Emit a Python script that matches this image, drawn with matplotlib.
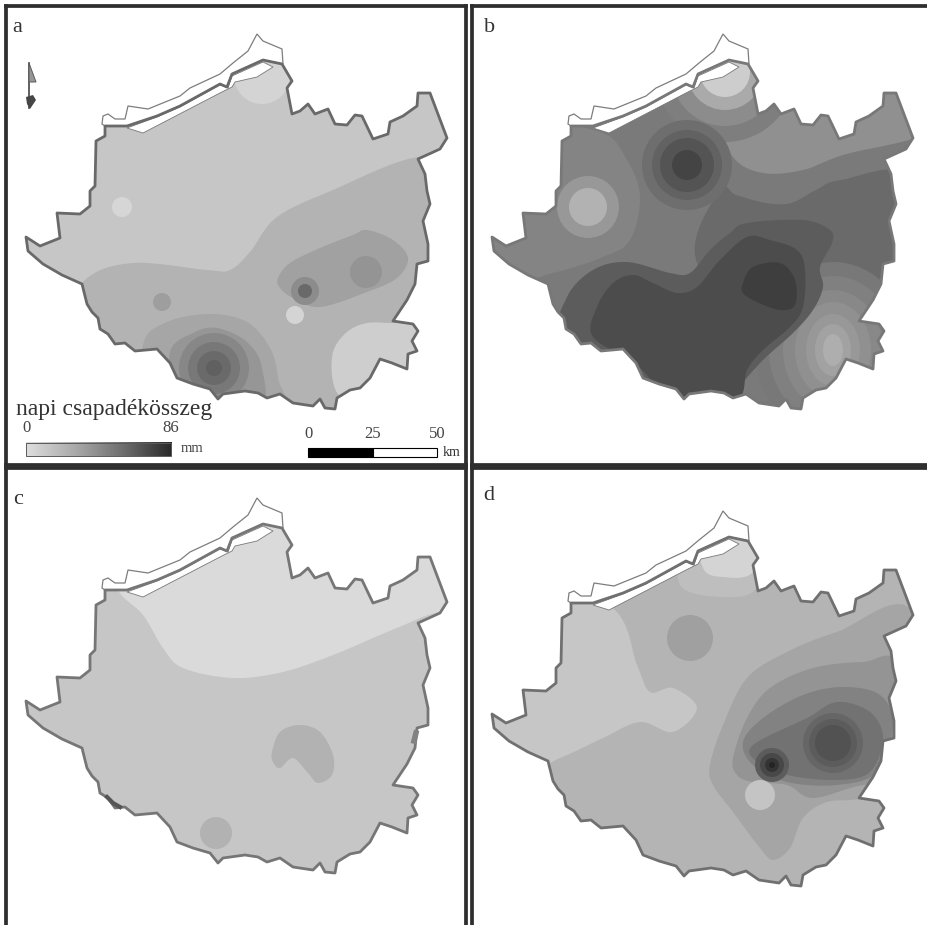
# -*- coding: utf-8 -*-
# Four daily precipitation maps (a-d), all drawn in panel a's pixel-like map coordinates
import numpy as np
import matplotlib
matplotlib.use('Agg')
import matplotlib.pyplot as plt
from matplotlib.patches import Polygon, Circle, Ellipse, Rectangle

# %% Map outlines

outline = [(105,126),(127,126),(157,116),(180,106),(220,84),(227,87),(232,74),(263,60),(282,64),(292,81),
    (287,88),(292,114),(300,111),(308,104),(315,114),(328,109),(335,124),(347,125),(355,115),(362,116),
    (373,139),(388,134),(390,122),(403,116),(417,106),(418,93),(430,93),(447,138),(440,149),(418,159),
    (425,174),(427,191),(430,204),(423,221),(428,244),(428,261),(417,264),(415,284),(407,300),(393,321),
    (413,324),(418,331),(412,341),(417,351),(408,354),(407,369),(392,363),(380,359),(370,378),(360,388),
    (350,390),(337,398),(335,409),(325,408),(320,399),(313,406),(293,403),(280,394),(267,398),(258,393),
    (245,391),(223,394),(218,399),(210,389),(193,384),(177,378),(170,363),(157,349),(135,351),(125,343),
    (115,344),(108,334),(100,329),(98,318),(92,312),(87,304),(82,284),(62,275),(43,264),(28,251),(26,237),
    (40,246),(60,238),(57,213),(80,214),(90,206),(90,191),(95,186),(96,141),(105,136)]

river_north = [(102,124),(103,116),(108,114),(115,119),(125,119),(128,106),(148,109),(180,96),(190,88),
    (220,74),(233,63),(248,51),(257,34),(263,41),(282,49),(283,64),(263,60),(232,74),(227,87),(220,84),
    (180,106),(157,116),(127,126),(105,126)]

river_south = [(127,128),(143,133),(220,93),(232,87),(235,82),(257,77),(273,67),(263,62),(232,76),(228,88),
    (220,85),(180,107),(157,117)]

# %% Panel a contours

a_band = [(418,157),(333,190),(277,217),(250,252),(230,270),(207,270),(133,263),(85,280),(60,330),(130,400),
    (300,430),(470,400),(480,170)]
a_se_light = [(333,352),(347,332),(367,323),(393,323),(430,322),(430,380),(367,398),(343,398),(333,382)]
a_ne_oval = [(278,278),(290,263),(320,248),(353,235),(367,230),(393,240),(408,258),(397,278),(367,292),
    (320,307),(293,298),(280,288)]
a_south_1 = [(143,345),(167,322),(210,314),(247,322),(270,348),(278,378),(278,415),(150,410)]
a_south_2 = [(170,352),(193,333),(217,328),(247,342),(262,368),(258,410),(180,400)]
a_circles = [(262,76,28,212),(122,207,10,214),(295,315,9,212),(162,302,9,158),(366,272,16,148),
    (305,291,14,140),(305,291,7,105),(214,368,35,135),(214,368,26,120),(214,368,17,106),(214,368,8,96)]

# %% Panel b contours

b_north_light = [(250,112),(267,157),(297,173),(337,170),(377,155),(470,128),(470,70),(300,50)]
b_mid = [(254,190),(270,195),(300,203),(325,203),(350,190),(375,180),(445,178),(445,300),(300,340),(230,260)]
b_west = [(134,132),(161,160),(174,197),(164,240),(137,257),(87,273),(40,280),(10,220),(60,130)]
b_dark_1 = [(101,297),(127,270),(161,262),(204,273),(224,273),(244,250),(264,233),(281,223),(337,220),
    (364,230),(366,243),(354,267),(357,287),(347,310),(327,333),(297,360),(274,387),(264,410),(150,410),
    (95,340)]
b_dark_2 = [(131,307),(147,283),(167,275),(187,283),(211,293),(231,287),(254,260),(281,237),(304,240),
    (331,250),(339,270),(337,307),(324,327),(297,350),(281,370),(271,400),(217,410),(171,365),(127,337)]
b_core = [(277,283),(287,267),(314,263),(329,280),(329,305),(314,310),(291,302),(277,293)]
b_circles_west = [(122,207,31,152),(122,207,19,178)]
b_circles_north = [(259,72,70,126),(259,72,54,140),(259,72,38,170),(259,72,25,205)]
b_circles_core = [(221,165,45,110),(221,165,35,98),(221,165,27,84),(221,165,15,68)]
b_east_lobe = [(385,330),(430,318),(430,375),(385,375)]
# SE light area, centre x, centre y, half width, half height, grey
b_rings = [(367,350,78,88,120),(367,350,64,74,128),(367,350,50,60,136),(367,350,38,48,144),(367,350,27,36,152),
    (367,350,18,26,162),(367,350,10,16,174)]

# %% Panel c contours

c_north = [(120,129),(143,151),(163,184),(183,204),(233,214),(283,208),(333,191),(380,171),(420,154),(470,130),
    (460,60),(300,30),(110,100)]
c_crescent = [(272,288),(280,268),(300,261),(320,268),(333,291),(332,311),(318,319),(308,309),(293,294),(280,304),
    (273,298)]
c_circles = [(216,369,16,178)]
c_edge_1 = [(107,333),(113,339),(120,343)]
c_edge_2 = [(416,269),(414,277)]

# %% Panel d contours

d_west = [(147,131),(171,188),(184,215),(207,211),(231,231),(207,255),(174,245),(137,261),(94,281),(40,300),
    (5,220),(60,90)]
d_north_1 = [(214,108),(257,120),(291,111),(310,60),(225,60)]
d_north_2 = [(237,91),(257,100),(287,95),(300,50),(235,50)]
d_se_1 = [(244,288),(257,248),(281,201),(321,175),(371,155),(447,135),(465,300),(397,321),(361,325),(337,341),
    (324,371),(307,383),(294,371),(267,335),(247,308)]
d_se_2 = [(267,281),(281,241),(304,211),(347,191),(397,185),(434,188),(465,300),(397,308),(347,321),(321,308),
    (287,305),(271,298)]
d_se_3 = [(277,265),(297,241),(337,218),(377,210),(414,218),(427,248),(411,295),(371,308),(321,305),(287,288)]
d_se_4 = [(287,268),(341,241),(371,225),(404,235),(417,261),(404,295),(371,303),(321,298),(291,285)]
d_circles_1 = [(224,161,23,160)]
d_circles_2 = [(367,266,30,102),(367,266,24,92),(367,266,18,82),(306,288,17,92),(306,288,12,72),(306,288,7,52),
    (306,288,3,36),(294,318,15,196)]

# %% Legend and labels

legend_title = 'napi csapadékösszeg'
legend_ticks = ['0', '86']
legend_unit = 'mm'
scale_ticks = ['0', '25', '50']
scale_unit = 'km'
arrow_head = [(29,63),(36,82),(29,82)]
arrow_tail = [(26,97),(33,95),(36,100),(30,109),(27,104)]

# %% Helpers

W, H = 927, 925

def grey(v):
    return (v/255, v/255, v/255)

def smooth(pts, n=12):
    # closed Catmull-Rom curve through the traced contour points
    p = np.array(pts, dtype=float)
    out = []
    for i in range(len(p)):
        p0, p1, p2, p3 = p[i-1], p[i], p[(i+1) % len(p)], p[(i+2) % len(p)]
        for t in np.linspace(0, 1, n, endpoint=False):
            out.append(0.5*(2*p1 + (p2-p0)*t + (2*p0-5*p1+4*p2-p3)*t**2 + (3*p1-p0-3*p2+p3)*t**3))
    return np.array(out)

def make_panel(x0, y0, x1, y1, dx, dy, sides):
    ax = fig.add_axes([x0/W, 1-y1/H, (x1-x0)/W, (y1-y0)/H])
    ax.set_xlim(x0-dx, x1-dx)
    ax.set_ylim(y1-dy, y0-dy)
    ax.set_xticks([])
    ax.set_yticks([])
    for name, sp in ax.spines.items():
        sp.set_visible(name in sides)
        sp.set_linewidth(2.7)
        sp.set_color('#2e2e2e')
    return ax

def draw_map(ax, base, layers, edge=110):
    clip = Polygon(outline, closed=True, fc=grey(base), ec='none', zorder=1)
    ax.add_patch(clip)
    z = 2
    for layer in layers:
        kind, data, *rest = layer
        if kind == 'poly':
            items = [Polygon(smooth(data), closed=True, fc=grey(rest[0]), ec='none', zorder=z)]
        elif kind == 'flat':
            items = [Polygon(data, closed=True, fc=grey(rest[0]), ec='none', zorder=z)]
        elif kind == 'circles':
            items = [Circle((x, y), r, fc=grey(v), ec='none', zorder=z) for x, y, r, v in data]
        else:
            items = [Ellipse((x, y), 2*w, 2*h, fc=grey(v), ec='none', zorder=z) for x, y, w, h, v in data]
        for it in items:
            ax.add_patch(it)
            it.set_clip_path(clip)
        z += 1
    ax.add_patch(Polygon(river_south, closed=True, fc='white', ec=grey(120), lw=0.6, zorder=20))
    ax.add_patch(Polygon(river_north, closed=True, fc='white', ec=grey(125), lw=0.9, zorder=21))
    ax.add_patch(Polygon(outline, closed=True, fc='none', ec=grey(edge), lw=2.0, joinstyle='round', zorder=22))

fig = plt.figure(figsize=(W/100, H/100), dpi=100)
fig.patch.set_facecolor('white')
plt.rcParams['font.family'] = ['Liberation Serif', 'DejaVu Serif']

ax_a = make_panel(6, 6, 466, 465, 0, 0, ('left', 'right', 'top', 'bottom'))
ax_b = make_panel(472, 6, 929, 465, 466, 0, ('left', 'top', 'bottom'))
ax_c = make_panel(6, 468, 466, 927, 0, 464, ('left', 'right', 'top'))
ax_d = make_panel(472, 468, 929, 927, 466, 477, ('left', 'top'))

# %% Maps

draw_map(ax_a, 198, [('poly', a_band, 179), ('poly', a_se_light, 206), ('poly', a_ne_oval, 161),
    ('poly', a_south_1, 166), ('poly', a_south_2, 150), ('circles', a_circles)], edge=105)

draw_map(ax_b, 122, [('poly', b_north_light, 144), ('poly', b_mid, 106), ('poly', b_west, 132),
    ('circles', b_circles_west), ('circles', b_circles_north), ('circles', b_circles_core),
    ('flat', b_east_lobe, 140), ('ellipses', b_rings), ('poly', b_dark_1, 92), ('poly', b_dark_2, 76),
    ('poly', b_core, 62)], edge=120)

draw_map(ax_c, 198, [('poly', c_north, 218), ('poly', c_crescent, 178), ('circles', c_circles)], edge=118)
ax_c.plot(*zip(*c_edge_1), color=grey(85), lw=3.0, zorder=23)
ax_c.plot(*zip(*c_edge_2), color=grey(130), lw=4.0, zorder=23)

draw_map(ax_d, 180, [('poly', d_west, 198), ('poly', d_north_1, 190), ('poly', d_north_2, 212),
    ('circles', d_circles_1), ('poly', d_se_1, 165), ('poly', d_se_2, 148), ('poly', d_se_3, 130),
    ('poly', d_se_4, 114), ('circles', d_circles_2)], edge=112)

# %% Panel letters

for ax, letter, x, y in [(ax_a, 'a', 17, 28), (ax_b, 'b', 24, 28), (ax_c, 'c', 18, 36), (ax_d, 'd', 23, 19)]:
    ax.text(x, y, letter, fontsize=16, color='#333333', ha='center', va='center', zorder=30)

# %% Legend, scale bar and north arrow in panel a

ax_a.text(16, 410, legend_title, fontsize=17, color='#333333', ha='left', va='center', zorder=30)
ax_a.text(26, 428, legend_ticks[0], fontsize=12, color='#444444', ha='center', va='center', zorder=30)
ax_a.text(171, 428, legend_ticks[1], fontsize=12, color='#444444', ha='center', va='center', zorder=30)
ax_a.imshow(np.linspace(0, 1, 256).reshape(1, -1), cmap=matplotlib.colors.LinearSegmentedColormap.from_list(
    'bar', [grey(222), grey(170), grey(110), grey(40)]), extent=(26, 171, 456, 443), aspect='auto', zorder=30)
ax_a.add_patch(Rectangle((26, 443), 145, 13, fc='none', ec=grey(90), lw=0.7, zorder=31))
ax_a.text(192, 449, legend_unit, fontsize=10.5, color='#444444', ha='center', va='center', zorder=30)
ax_a.set_xlim(6, 466)
ax_a.set_ylim(465, 6)

ax_a.add_patch(Rectangle((308, 448), 65, 9, fc='black', ec='black', lw=0.8, zorder=30))
ax_a.add_patch(Rectangle((373, 448), 64, 9, fc='white', ec='black', lw=0.8, zorder=30))
for label, x in zip(scale_ticks, (308, 373, 437)):
    ax_a.text(x, 434, label, fontsize=12, color='#444444', ha='center', va='center', zorder=30)
ax_a.text(452, 453, scale_unit, fontsize=10, color='#333333', ha='center', va='center', zorder=30)

ax_a.plot([29, 29], [63, 108], color=grey(70), lw=1.2, zorder=30)
ax_a.add_patch(Polygon(arrow_head, closed=True, fc=grey(150), ec=grey(90), lw=0.7, zorder=30))
ax_a.add_patch(Polygon(arrow_tail, closed=True, fc=grey(70), ec='none', zorder=30))

fig.savefig('out.png', dpi=100)
